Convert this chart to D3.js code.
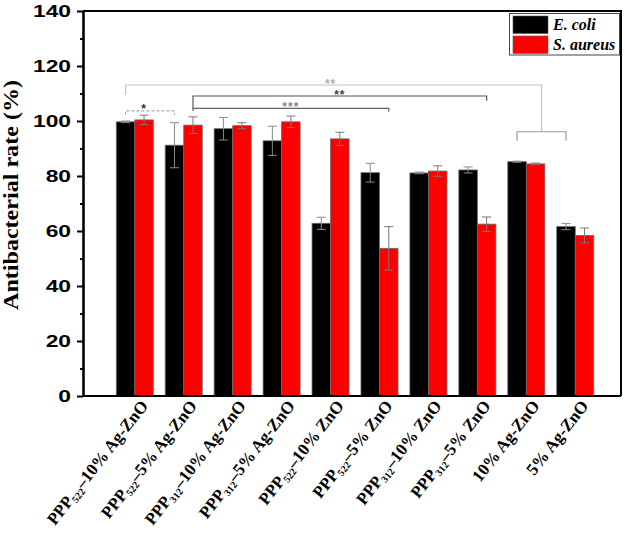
<!DOCTYPE html>
<html><head><meta charset="utf-8">
<script src="https://cdn.jsdelivr.net/npm/d3@7"></script>
<style>body{margin:0;background:#fff}</style>
</head><body>
<svg id="c" width="625" height="534"></svg>
<script>
// ---- data ----
const categories = ["PPP522–10% Ag-ZnO","PPP522–5% Ag-ZnO","PPP312–10% Ag-ZnO","PPP312–5% Ag-ZnO","PPP522–10% ZnO","PPP522–5% ZnO","PPP312–10% ZnO","PPP312–5% ZnO","10% Ag-ZnO","5% Ag-ZnO"];
const seriesNames = ["E. coli","S. aureus"];
const seriesColors = ["#000000","#ff0000"];
const ecoli      = [99.7, 91.2, 97.2, 92.8, 62.8, 81.2, 81.1, 82.2, 85.2, 61.6];
const ecoliErr   = [0.3, 8.2, 4.1, 5.3, 2.2, 3.4, 0.3, 1.1, 0.2, 1.1];
const saureus    = [100.4, 98.5, 98.3, 99.7, 93.5, 53.7, 81.8, 62.5, 84.4, 58.4];
const saureusErr = [1.7, 3.0, 1.1, 2.1, 2.4, 7.9, 1.9, 2.6, 0.3, 2.7];
const yTicks = [0,20,40,60,80,100,120,140];
const yMinorTicks = [10,30,50,70,90,110,130];
const yTitle = "Antibacterial rate (%)";
// significance brackets: group index, series (0 E. coli, 1 S. aureus), values in %
const brackets = [
  {g1:0, s1:0, g2:8.5, s2:0, y:113.1, d1:109.5, d2:96.1, color:"#c4c4c4", dash:null},
  {g1:8, s1:0, g2:9,   s2:0, y:96.1,  d1:92.8,  d2:92.8, color:"#9a9a9a", dash:null},
  {g1:1, s1:1, g2:7,   s2:1, y:109.1, d1:103.7, d2:107.4, color:"#555555", dash:null},
  {g1:1, s1:1, g2:5,   s2:1, y:104.6, d1:104.6, d2:103.4, color:"#666666", dash:null},
  {g1:0, s1:0, g2:1,   s2:0, y:103.7, d1:102.2, d2:102.2, color:"#aaaaaa", dash:"3,2"}
];
const sigLabels = [
  {text:"**",  g:4,   s:0.5, y:114.2, color:"#b0b0b0"},
  {text:"**",  g:4,   s:1,   y:110.2, color:"#444444"},
  {text:"***", g:3,   s:1,   y:105.8, color:"#8a8a8a"},
  {text:"*",   g:0,   s:1,   y:105.0, color:"#333333"}
];

// ---- layout ----
const svg = d3.select("#c");
const L = 83, R = 621, T = 11, B = 396;
const x = d3.scaleBand().domain(categories).range([L, R]).paddingInner(0.243).paddingOuter(0.618).align(0.55);
const y = d3.scaleLinear().domain([0,140]).range([B, T]);
const bw = x.bandwidth();
const step = x.step();
const gx = (g, s) => x(categories[0]) + g*step + bw/4 + s*bw/2;

// bars
const data = [ecoli, saureus];
const errs = [ecoliErr, saureusErr];
data.forEach((vals, si) => {
  svg.append("g").selectAll("rect").data(vals).join("rect")
    .attr("x", (d,i) => x(categories[i]) + si*bw/2)
    .attr("y", d => y(d))
    .attr("width", bw/2)
    .attr("height", d => y(0) - y(d))
    .attr("fill", seriesColors[si])
    .attr("stroke", "#6a6a6a").attr("stroke-width", 0.8);
});
// error bars
data.forEach((vals, si) => {
  const g = svg.append("g").attr("stroke", si===0 ? "#8a8a8a" : "#777").attr("stroke-width", 1).attr("fill","none");
  vals.forEach((v, i) => {
    const cx = gx(i, si), e = errs[si][i], cw = 4.5;
    g.append("line").attr("x1", cx).attr("x2", cx).attr("y1", y(v+e)).attr("y2", y(v-e));
    g.append("line").attr("x1", cx-cw).attr("x2", cx+cw).attr("y1", y(v+e)).attr("y2", y(v+e));
    g.append("line").attr("x1", cx-cw).attr("x2", cx+cw).attr("y1", y(v-e)).attr("y2", y(v-e));
  });
});

// brackets
brackets.forEach(b => {
  const x1 = gx(b.g1, b.s1), x2 = gx(b.g2, b.s2);
  svg.append("path")
    .attr("d", `M${x1},${y(b.d1)}V${y(b.y)}H${x2}V${y(b.d2)}`)
    .attr("fill","none").attr("stroke", b.color).attr("stroke-width", 1.2)
    .attr("stroke-dasharray", b.dash);
});
sigLabels.forEach(l => {
  svg.append("text").attr("x", gx(l.g, l.s)).attr("y", y(l.y) + 6)
    .attr("text-anchor","middle").attr("font-family","Liberation Sans, Arial, sans-serif")
    .attr("font-size", 12).attr("font-weight","bold").attr("letter-spacing", 1)
    .attr("fill", l.color).text(l.text);
});

// frame
svg.append("path").attr("d", `M${L},${T}H${R}V${B}`).attr("fill","none").attr("stroke","#000").attr("stroke-width",2);
svg.append("line").attr("x1", L).attr("x2", R).attr("y1", B).attr("y2", B).attr("stroke","#000").attr("stroke-width",2.2);

// y axis
const yAxis = svg.append("g").attr("transform", `translate(${L},0)`)
  .call(d3.axisLeft(y).tickValues(yTicks).tickSize(6).tickSizeOuter(0).tickPadding(4));
yAxis.select(".domain").attr("stroke-width", 2.6);
yAxis.selectAll(".tick line").attr("stroke-width", 2);
yAxis.selectAll(".tick text")
  .attr("font-family","Liberation Sans, Arial, sans-serif").attr("font-weight","bold").attr("font-size", 16.5)
  .attr("fill","#000")
  .attr("x", -12/1.38).attr("dy","0.36em").attr("transform","scale(1.38,1)");
const yMinor = svg.append("g").attr("transform", `translate(${L},0)`)
  .call(d3.axisLeft(y).tickValues(yMinorTicks).tickSize(3).tickFormat(""));
yMinor.select(".domain").remove();
yMinor.selectAll(".tick line").attr("stroke-width", 2);

// y title
svg.append("text")
  .attr("transform", `translate(18,${(80+310)/2}) rotate(-90)`)
  .attr("text-anchor","middle")
  .attr("font-family","Liberation Serif, Times New Roman, serif").attr("font-weight","bold").attr("font-size", 20)
  .attr("textLength", 230).attr("lengthAdjust","spacingAndGlyphs")
  .text(yTitle);

// x labels
categories.forEach((c, i) => {
  const cx = x(c) + bw/2;
  const t = svg.append("text")
    .attr("transform", `translate(${cx+14},${406}) rotate(-52)`)
    .attr("text-anchor","end")
    .attr("font-family","Liberation Serif, Times New Roman, serif").attr("font-weight","bold").attr("font-size", 17)
    .attr("fill","#000");
  const m = c.match(/^PPP(\d+)(.*)$/);
  if (m) {
    t.append("tspan").text("PPP");
    t.append("tspan").attr("font-size", 10).attr("dy", 3).text(m[1]);
    t.append("tspan").attr("dy", -3).text(m[2]);
  } else {
    t.text(c);
  }
});

// legend
const lg = svg.append("g");
lg.append("rect").attr("x", 509.5).attr("y", 13.5).attr("width", 110).attr("height", 41.5)
  .attr("fill","#fff").attr("stroke","#444").attr("stroke-width", 1);
seriesNames.forEach((n, i) => {
  lg.append("rect").attr("x", 513).attr("y", 16 + i*20).attr("width", 35).attr("height", 17.5)
    .attr("fill", seriesColors[i]).attr("stroke","#555").attr("stroke-width",0.6);
  lg.append("text").attr("x", 553).attr("y", 30 + i*20)
    .attr("font-family","Liberation Serif, Times New Roman, serif").attr("font-weight","bold").attr("font-style","italic")
    .attr("font-size", 16).text(n);
});
</script>
</body></html>
